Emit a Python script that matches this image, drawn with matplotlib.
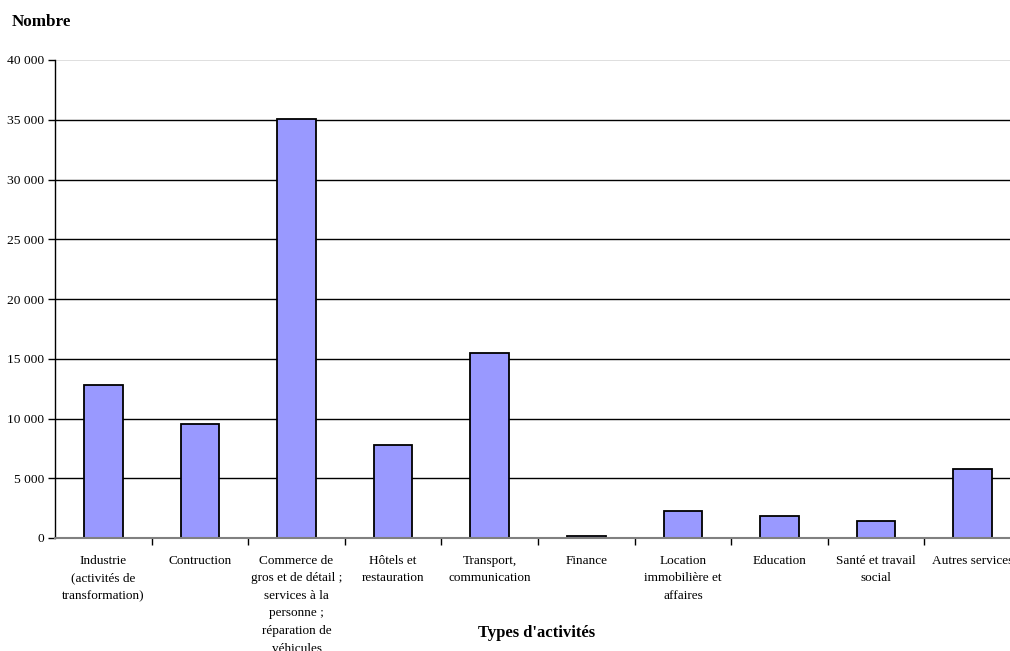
import numpy as np
import matplotlib
matplotlib.use("Agg")
from matplotlib import pyplot as plt
from matplotlib.ticker import FuncFormatter, MultipleLocator

categories = [
    "Industrie\n(activités de\ntransformation)",
    "Contruction",
    "Commerce de\ngros et de détail ;\nservices à la\npersonne ;\nréparation de\nvéhicules",
    "Hôtels et\nrestauration",
    "Transport,\ncommunication",
    "Finance",
    "Location\nimmobilière et\naffaires",
    "Education",
    "Santé et travail\nsocial",
    "Autres services",
]
values = [12800, 9500, 35100, 7750, 15500, 150, 2250, 1850, 1400, 5750]

plt.rcParams['font.family'] = ['Liberation Serif', 'DejaVu Serif']

fig = plt.figure(figsize=(10.1, 6.51), dpi=100)
ax = fig.add_axes([55 / 1010, 1 - 538 / 651, 966 / 1010, 478 / 651])

x = np.arange(len(categories))
ax.bar(x, values, width=0.4, color="#9999FF", edgecolor="black", linewidth=1.3, zorder=3)

ax.set_xlim(-0.5, len(categories) - 0.5)
ax.set_ylim(0, 40000)
ax.yaxis.set_major_locator(MultipleLocator(5000))
ax.yaxis.set_major_formatter(FuncFormatter(lambda v, p: f"{int(v):,}".replace(",", " ")))

for yv in range(5000, 40000, 5000):
    ax.axhline(yv, color="black", linewidth=1, zorder=1)
ax.axhline(40000, color="#d9d9d9", linewidth=1.2, zorder=1)

for s in ["top", "right"]:
    ax.spines[s].set_visible(False)
ax.spines["left"].set_linewidth(1)
ax.spines["bottom"].set_color("#808080")
ax.spines["bottom"].set_linewidth(1.5)
ax.spines["bottom"].set_zorder(4)

ax.set_xticks(x)
ax.set_xticklabels(categories, fontsize=9.5, linespacing=1.62, va="top")
ax.set_xticks(np.arange(0.5, len(categories) - 0.5, 1), minor=True)
ax.tick_params(axis="x", which="major", length=0, pad=12)
ax.tick_params(axis="x", which="minor", length=5, width=1, color="black", direction="out")
ax.tick_params(axis="y", length=5, width=1, direction="out", labelsize=9.7, pad=3)

fig.text(12 / 1010, 1 - 22 / 651, "Nombre", fontsize=12.3, fontweight="bold", va="center", ha="left")
fig.text(537 / 1010, 1 - 633 / 651, "Types d'activités", fontsize=12, fontweight="bold", va="center", ha="center")

fig.savefig("out.png", dpi=100)
